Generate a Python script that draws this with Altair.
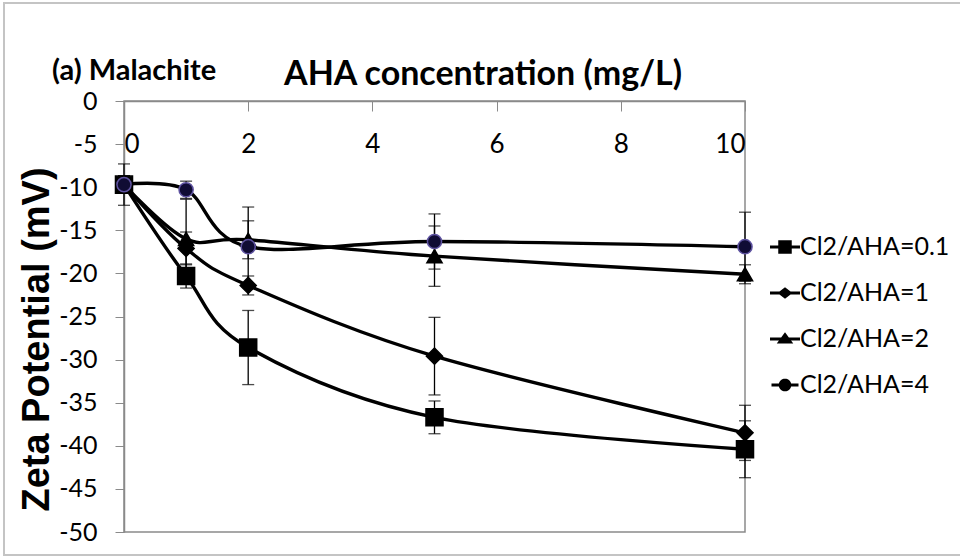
import math
import altair as alt
import pandas as pd

# ---------------- data ----------------
series_names = ["Cl2/AHA=0.1", "Cl2/AHA=1", "Cl2/AHA=2", "Cl2/AHA=4"]
aha_conc = [0, 1, 2, 5, 10]

zeta_cl01 = [-9.7, -20.3, -28.6, -36.7, -40.4]
zeta_cl1 = [-9.7, -17.1, -21.4, -29.6, -38.5]
zeta_cl2 = [-9.7, -16.0, -16.1, -18.0, -20.1]
zeta_cl4 = [-9.7, -10.3, -16.9, -16.3, -16.9]

err_cl01 = [2.4, 1.4, 4.3, 1.9, 3.3]
err_cl1 = [1.0, 1.9, 1.1, 4.5, 3.2]
err_cl2 = [1.0, 4.6, 2.2, 3.5, 1.1]
err_cl4 = [1.0, 1.0, 4.6, 3.2, 4.0]

x_ticks = [0, 2, 4, 6, 8, 10]
y_ticks = [0, -5, -10, -15, -20, -25, -30, -35, -40, -45, -50]

x_title = "AHA concentration (mg/L)"
y_title = "Zeta Potential (mV)"
panel_text = "(a) Malachite"

rows = []
for name, ys, es in zip(series_names,
                        [zeta_cl01, zeta_cl1, zeta_cl2, zeta_cl4],
                        [err_cl01, err_cl1, err_cl2, err_cl4]):
    for k, (x, y, e) in enumerate(zip(aha_conc, ys, es)):
        rows.append({"series": name, "conc": x, "zeta": y,
                     "lo": y - e, "hi": y + e, "k": k})
df = pd.DataFrame(rows)

# ---------------- styling ----------------
SANS = "Lato, sans-serif"
BOLD = "Liberation Sans, Arial, sans-serif"
W, H = 621, 431

marker_shapes = ["square", "diamond", "triangle-up", "circle"]
marker_sizes = [290, 200, 300, 250]
marker_fill = ["black", "black", "black", "#100c34"]
marker_stroke = ["black", "black", "black", "#5e52a0"]

# legend glyphs: a short filled bar (the line) plus the marker, all filled
def _disc(r, n=28):
    pts = [(r * math.cos(2 * math.pi * i / n), r * math.sin(2 * math.pi * i / n)) for i in range(n)]
    return "M" + "L".join(f"{x:.3f},{y:.3f}" for x, y in pts) + "Z"

legend_paths = [
    "M-1,-0.1H1V0.1H-1Z M-0.45,-0.45H0.45V0.45H-0.45Z",
    "M-1,-0.1H1V0.1H-1Z M-0.5,0L0,-0.38L0.5,0L0,0.38Z",
    "M-1,-0.1H1V0.1H-1Z M0,-0.45L0.55,0.3L-0.55,0.3Z",
    "M-0.9,-0.1H0.9V0.1H-0.9Z " + _disc(0.42),
]

xs = alt.Scale(domain=[0, 10], nice=False, zero=False)
ys = alt.Scale(domain=[-50, 0], nice=False)

base = alt.Chart(df)

x_enc = alt.X(
    "conc:Q", scale=xs, title=None,
    axis=alt.Axis(orient="bottom", offset=-H, values=x_ticks, tickSize=10,
                  tickColor="#8a8a8a", domainColor="#8a8a8a", domainWidth=1.5,
                  labelFont=SANS, labelFontSize=26, labelColor="black",
                  labelPadding=20, grid=False, labelExpr="toString(datum.value)"),
)
y_enc = alt.Y(
    "zeta:Q", scale=ys, title=y_title,
    axis=alt.Axis(values=y_ticks, tickSize=9, tickColor="#8a8a8a",
                  domainColor="#8a8a8a", domainWidth=1.5,
                  labelFont=SANS, labelFontSize=25, labelColor="black",
                  labelPadding=18, grid=False,
                  labelExpr="toString(datum.value)",
                  titleFont=BOLD, titleFontSize=38, titleFontWeight="bold",
                  titleColor="black", titleX=-87, titleY=238,
                  titleBaseline="middle", titleAlign="center", titleAngle=270),
)

border = alt.Chart(pd.DataFrame({"a": [0]})).mark_rect(
    fill="transparent", stroke="#c4c4c4", strokeWidth=2
).encode(x=alt.value(-120), x2=alt.value(840), y=alt.value(-98), y2=alt.value(454))

err_rules = base.mark_rule(color="black", strokeWidth=1.3).encode(
    x=x_enc, y=alt.Y("lo:Q", scale=ys), y2="hi:Q"
)
cap_lo = base.mark_tick(orient="horizontal", color="black", size=12, thickness=1.3).encode(
    x=alt.X("conc:Q", scale=xs), y=alt.Y("lo:Q", scale=ys)
)
cap_hi = base.mark_tick(orient="horizontal", color="black", size=12, thickness=1.3).encode(
    x=alt.X("conc:Q", scale=xs), y=alt.Y("hi:Q", scale=ys)
)

lines = base.mark_line(interpolate="cardinal", color="black", strokeWidth=3.4).encode(
    x=x_enc, y=y_enc, detail="series:N", order="k:Q"
)

points = base.mark_point(filled=True, opacity=1, strokeWidth=1.5).encode(
    x=alt.X("conc:Q", scale=xs),
    y=alt.Y("zeta:Q", scale=ys),
    shape=alt.Shape("series:N", scale=alt.Scale(domain=series_names, range=marker_shapes), legend=None),
    size=alt.Size("series:N", scale=alt.Scale(domain=series_names, range=marker_sizes), legend=None),
    fill=alt.Fill("series:N", scale=alt.Scale(domain=series_names, range=marker_fill), legend=None),
    stroke=alt.Stroke("series:N", scale=alt.Scale(domain=series_names, range=marker_stroke), legend=None),
)

legend_layer = base.transform_filter("false").mark_point(
    filled=True, fill="black", size=900, opacity=1
).encode(
    x=alt.X("conc:Q", scale=xs),
    y=alt.Y("zeta:Q", scale=ys),
    shape=alt.Shape(
        "series:N",
        scale=alt.Scale(domain=series_names, range=legend_paths),
        legend=alt.Legend(
            title=None, orient="none", legendX=646, legendY=131,
            symbolSize=900, symbolStrokeWidth=0, symbolFillColor="black",
            symbolOpacity=1, labelFont=SANS, labelFontSize=25,
            labelColor="black", labelOffset=0, rowPadding=18, padding=0,
            labelLimit=300,
        ),
    ),
)

panel_label = alt.Chart(pd.DataFrame({"t": [panel_text]})).mark_text(
    font=SANS, fontSize=29, fontWeight="bold", align="left", baseline="middle", color="black"
).encode(text="t:N", x=alt.value(-72), y=alt.value(-30))

main_title = alt.Chart(pd.DataFrame({"t": [x_title]})).mark_text(
    font=SANS, fontSize=34, fontWeight="bold", align="center", baseline="middle", color="black"
).encode(text="t:N", x=alt.value(359), y=alt.value(-26))

chart = alt.layer(
    border, err_rules, cap_lo, cap_hi, lines, points, legend_layer, panel_label, main_title
).resolve_scale(shape="independent", size="independent").properties(
    width=W, height=H,
    autosize=alt.AutoSizeParams(type="none"),
    padding={"left": 124, "top": 101, "right": 215, "bottom": 26},
    background="white",
).configure_view(stroke="#8a8a8a", strokeWidth=1.5)

chart.save("out.html", embed_options={"renderer": "svg", "actions": False})
